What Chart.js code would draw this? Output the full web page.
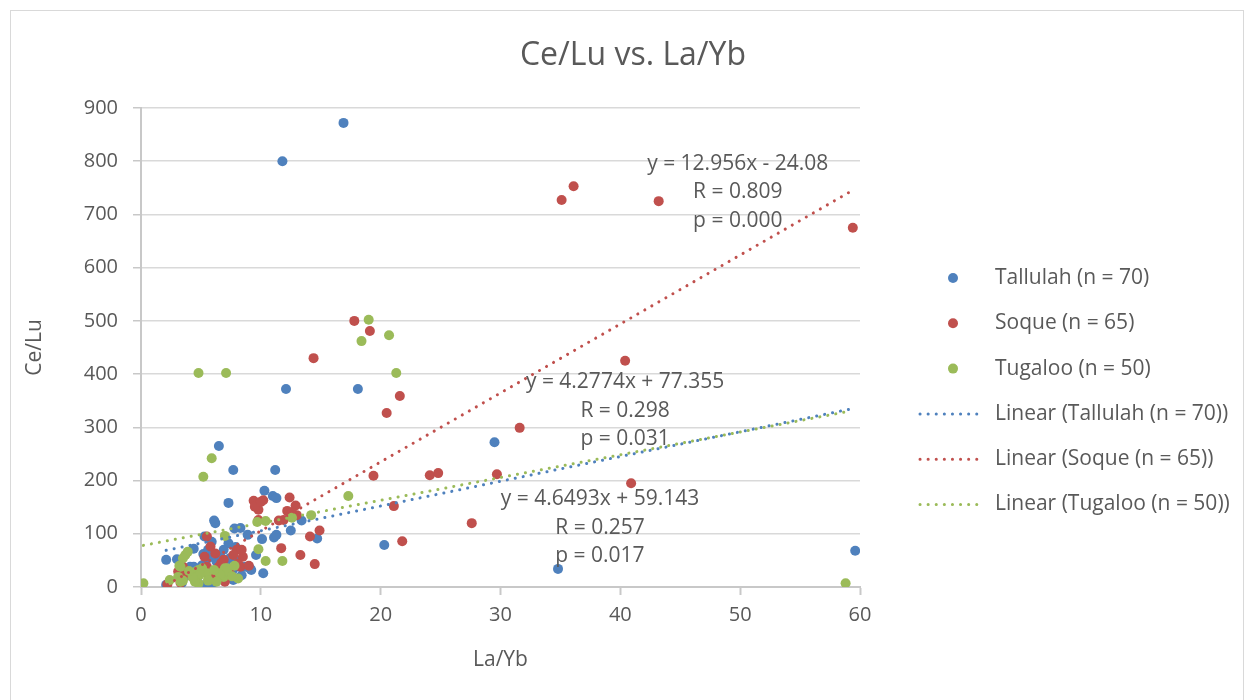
<!DOCTYPE html>
<html>
<head>
<meta charset="utf-8">
<title>Ce/Lu vs. La/Yb</title>
<script src="https://cdn.jsdelivr.net/npm/chart.js@4.4.1/dist/chart.umd.min.js"></script>
<style>
  html, body { margin: 0; padding: 0; background: #fff; }
  #wrap { position: relative; width: 1246px; height: 700px; }
</style>
</head>
<body>
<div id="wrap"><canvas id="chart" width="1246" height="700"></canvas></div>
<script>
// Data
const seriesNames = ["Tallulah (n = 70)", "Soque (n = 65)", "Tugaloo (n = 50)"];

const tallulahLaYb = [16.9, 11.8, 12.1, 18.1, 6.5, 29.5, 7.7, 11.2, 10.3, 11.0, 11.3, 7.3, 6.1, 7.8, 8.9, 11.1, 12.5, 13.4, 14.7, 10.2,
  20.3, 34.8, 59.6, 2.1, 3.0, 4.4, 5.2, 5.5, 5.1, 4.4, 3.7, 3.3, 2.1, 3.4, 4.8, 5.5, 4.1, 5.6, 6.2, 7.3,
  5.6, 5.9, 6.9, 7.4, 6.3, 8.7, 9.2, 6.5, 6.9, 5.8, 7.6, 8.0, 11.3, 10.1, 8.3, 6.0, 7.7, 6.9, 9.1, 8.0,
  4.6, 3.9, 6.6, 7.9, 9.6, 4.9, 6.0, 7.1, 8.4, 5.3];
const tallulahCeLu = [872, 800, 372, 372, 265, 272, 220, 220, 181, 171, 167, 158, 125, 110, 98, 93, 106, 125, 91, 26,
  79, 34, 68, 51, 52, 72, 62, 53, 41, 38, 29, 19, 4, 7, 7, 4, 38, 54, 120, 82,
  70, 85, 70, 54, 48, 38, 32, 16, 26, 19, 29, 48, 98, 90, 111, 29, 13, 19, 35, 38,
  12, 22, 60, 75, 60, 30, 8, 40, 22, 95];

const soqueLaYb = [35.1, 36.1, 43.2, 59.4, 17.8, 19.1, 14.4, 40.4, 21.6, 20.5, 31.6, 19.4, 24.1, 24.8, 29.7, 40.9, 21.1, 27.6, 21.8, 13.3,
  14.5, 14.9, 14.1, 11.7, 12.4, 12.9, 12.2, 13.0, 11.9, 9.4, 10.2, 9.8, 9.8, 9.5, 5.5, 5.8, 5.3, 5.5, 5.8, 6.2,
  6.9, 8.0, 8.5, 8.3, 7.4, 6.5, 5.9, 3.5, 3.9, 3.4, 2.2, 3.1, 8.4, 8.1, 6.2, 10.0, 11.5, 4.5, 7.0, 4.8,
  6.7, 3.3, 9.0, 7.7, 12.6];
const soqueCeLu = [727, 753, 725, 675, 500, 481, 430, 425, 359, 327, 299, 209, 210, 214, 212, 195, 152, 120, 86, 60,
  43, 106, 95, 73, 168, 153, 143, 135, 126, 162, 163, 145, 126, 151, 95, 76, 57, 38, 23, 63,
  51, 70, 57, 38, 26, 38, 19, 38, 26, 21, 5, 29, 70, 44, 30, 160, 125, 15, 10, 28,
  45, 8, 40, 60, 140];

const tugalooLaYb = [4.8, 7.1, 19.0, 18.4, 20.7, 21.3, 17.3, 5.9, 5.2, 14.2, 10.4, 12.6, 9.8, 10.4, 11.8, 8.1, 7.0, 0.2, 58.8, 2.4,
  4.6, 5.1, 4.8, 5.5, 6.6, 7.2, 6.9, 7.0, 7.2, 6.6, 3.7, 3.9, 3.5, 3.3, 3.1, 3.3, 4.8, 4.9, 4.5, 5.6,
  3.5, 6.1, 4.3, 5.6, 7.6, 9.7, 3.2, 4.0, 6.3, 7.8];
const tugalooCeLu = [402, 402, 502, 462, 473, 402, 171, 242, 207, 135, 124, 130, 71, 49, 49, 16, 96, 7, 7, 13,
  29, 35, 7, 26, 26, 35, 19, 35, 29, 23, 60, 66, 54, 38, 19, 10, 32, 23, 10, 13,
  12, 32, 18, 12, 20, 122, 40, 30, 10, 40];

// Trendline equations and stats as printed on the chart
const trendSlopes = [4.6493, 12.956, 4.2774];
const trendIntercepts = [59.143, -24.08, 77.355];
const trendR = ["0.257", "0.809", "0.298"];
const trendP = ["0.017", "0.000", "0.031"];

// Axis ticks
const xTicks = [0, 10, 20, 30, 40, 50, 60];
const yTicks = [0, 100, 200, 300, 400, 500, 600, 700, 800, 900];

const colors = ["#4F81BD", "#C0504D", "#9BBB59"];
const textColor = "#595959";
const fontFamily = "'Open Sans', 'Noto Sans', sans-serif";

const allX = [tallulahLaYb, soqueLaYb, tugalooLaYb];
const allY = [tallulahCeLu, soqueCeLu, tugalooCeLu];

const datasets = [];
seriesNames.forEach((name, i) => {
  datasets.push({
    type: "scatter",
    label: name,
    data: allX[i].map((x, j) => ({ x: x, y: allY[i][j] })),
    backgroundColor: colors[i],
    borderWidth: 0,
    pointRadius: 5,
    pointHoverRadius: 5,
    order: 6 - i
  });
});
seriesNames.forEach((name, i) => {
  const x0 = Math.min(...allX[i]);
  const x1 = Math.max(...allX[i]);
  datasets.push({
    type: "line",
    label: "Linear (" + name + ")",
    data: [x0, x1].map(x => ({ x: x, y: trendSlopes[i] * x + trendIntercepts[i] })),
    borderColor: colors[i],
    borderWidth: 3,
    borderDash: [0.1, 8],
    borderCapStyle: "round",
    pointRadius: 0,
    fill: false,
    order: 3 - i
  });
});

// where the trendline text blocks sit (data coords of the first line's centre)
const trendLabelAt = [[38.3, 165], [49.8, 795], [40.4, 385]];

const decorPlugin = {
  id: "decor",
  afterDraw(chart) {
    const ctx = chart.ctx;
    const xs = chart.scales.x, ys = chart.scales.y;
    ctx.save();

    // outer frame
    ctx.strokeStyle = "#d9d9d9";
    ctx.lineWidth = 1;
    ctx.strokeRect(10.5, 10.5, 1233, 700);

    // title
    ctx.fillStyle = textColor;
    ctx.textAlign = "center";
    ctx.textBaseline = "middle";
    ctx.font = "32px " + fontFamily;
    ctx.fillText("Ce/Lu vs. La/Yb", 633, 56);

    // trendline labels
    ctx.font = "21px " + fontFamily;
    trendSlopes.forEach((m, i) => {
      const b = trendIntercepts[i];
      const eq = "y = " + m + "x " + (b < 0 ? "- " : "+ ") + Math.abs(b);
      const cx = xs.getPixelForValue(trendLabelAt[i][0]);
      const cy = ys.getPixelForValue(trendLabelAt[i][1]);
      ctx.fillText(eq, cx, cy);
      ctx.fillText("R = " + trendR[i], cx, cy + 28.5);
      ctx.fillText("p = " + trendP[i], cx, cy + 57);
    });

    // legend
    ctx.textAlign = "left";
    ctx.font = "21px " + fontFamily;
    chart.data.datasets.forEach((ds, row) => {
      const y = 278 + row * 45.3;
      if (ds.type === "scatter") {
        ctx.fillStyle = ds.backgroundColor;
        ctx.beginPath();
        ctx.arc(953, y, 5, 0, Math.PI * 2);
        ctx.fill();
      } else {
        ctx.strokeStyle = ds.borderColor;
        ctx.lineWidth = 3;
        ctx.lineCap = "round";
        ctx.setLineDash([0.1, 8]);
        ctx.beginPath();
        ctx.moveTo(920, y);
        ctx.lineTo(982, y);
        ctx.stroke();
        ctx.setLineDash([]);
      }
      ctx.fillStyle = textColor;
      ctx.fillText(ds.label, 995, y);
    });
    ctx.restore();
  }
};

new Chart(document.getElementById("chart").getContext("2d"), {
  type: "scatter",
  data: { datasets: datasets },
  options: {
    responsive: false,
    animation: false,
    devicePixelRatio: 1,
    layout: { padding: { left: 10, top: 108, right: 386, bottom: 0 } },
    plugins: {
      legend: { display: false },
      tooltip: { enabled: false },
      title: { display: false }
    },
    scales: {
      x: {
        type: "linear",
        min: xTicks[0],
        max: xTicks[xTicks.length - 1],
        afterBuildTicks: s => { s.ticks = xTicks.map(v => ({ value: v })); },
        afterFit: s => { s.height = 113; },
        border: { color: "#c8c8c8", width: 2 },
        grid: { drawOnChartArea: false, drawTicks: true, tickLength: 8, tickColor: "#c8c8c8", tickWidth: 2 },
        ticks: { color: textColor, font: { family: fontFamily, size: 20 }, padding: 8 },
        title: { display: true, text: "La/Yb", color: textColor, font: { family: fontFamily, size: 21 }, padding: { top: 0, bottom: 27 } }
      },
      y: {
        type: "linear",
        min: 0,
        max: 900,
        afterBuildTicks: s => {
          const t = [];
          for (let i = 0; i < yTicks.length; i++) {
            t.push({ value: yTicks[i] });
            if (i < yTicks.length - 1) t.push({ value: (yTicks[i] + yTicks[i + 1]) / 2 });
          }
          s.ticks = t;
        },
        afterFit: s => { s.width = 131; },
        border: { color: "#c8c8c8", width: 2 },
        grid: {
          drawOnChartArea: true,
          drawTicks: true,
          tickLength: 8,
          lineWidth: 1.5,
          color: c => (yTicks.includes(c.tick.value) ? "#d9d9d9" : "#f0f0f0"),
          tickColor: c => (yTicks.includes(c.tick.value) ? "#c8c8c8" : "rgba(0,0,0,0)")
        },
        ticks: {
          color: textColor,
          font: { family: fontFamily, size: 20 },
          padding: 15,
          callback: v => (yTicks.includes(v) ? String(v) : "")
        },
        title: { display: true, text: "Ce/Lu", color: textColor, font: { family: fontFamily, size: 21 }, padding: { top: 12, bottom: 0 } }
      }
    }
  },
  plugins: [decorPlugin]
});
</script>
</body>
</html>
